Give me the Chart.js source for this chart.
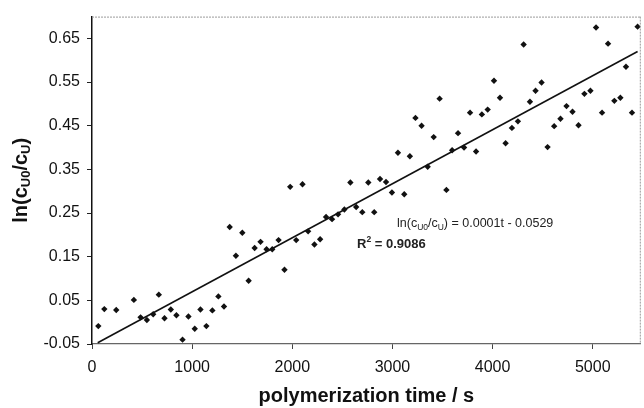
<!DOCTYPE html>
<html><head><meta charset="utf-8">
<script src="https://cdn.jsdelivr.net/npm/chart.js@4/dist/chart.umd.min.js"></script>
<style>html,body{margin:0;padding:0;background:#fff;} #wrap{width:644px;height:408px;}</style>
</head><body><div id="wrap"><canvas id="c" width="644" height="408"></canvas></div>
<script>
// ---- data ----
const timeS = [63,123,242,418,485,548,611,667,724,787,843,904,963,1026,1083,1142,1202,1262,1318,1375,1437,1501,1564,1624,1683,1743,1800,1863,1922,1979,2039,2102,2158,2221,2278,2337,2397,2457,2520,2580,2638,2699,2759,2818,2876,2936,2995,3055,3118,3174,3230,3291,3352,3412,3471,3539,3596,3655,3715,3775,3835,3893,3951,4014,4074,4130,4193,4253,4310,4373,4429,4489,4549,4615,4678,4738,4798,4858,4917,4977,5033,5093,5153,5216,5276,5332,5392,5448];
const lnRatio = [-0.009,0.030,0.028,0.051,0.011,0.005,0.018,0.063,0.009,0.029,0.016,-0.040,0.013,-0.015,0.029,-0.009,0.027,0.059,0.036,0.218,0.152,0.205,0.095,0.170,0.184,0.167,0.167,0.188,0.120,0.310,0.188,0.316,0.208,0.178,0.190,0.241,0.236,0.247,0.258,0.320,0.264,0.252,0.320,0.252,0.328,0.321,0.297,0.388,0.293,0.380,0.468,0.450,0.356,0.424,0.512,0.303,0.394,0.433,0.400,0.480,0.391,0.476,0.487,0.553,0.514,0.410,0.445,0.460,0.636,0.505,0.530,0.549,0.401,0.449,0.466,0.495,0.482,0.451,0.523,0.530,0.675,0.480,0.638,0.507,0.514,0.585,0.480,0.677];
const trendTime = [57, 5448];
const trendLn = [-0.047, 0.620];
const xTicks = [0,1000,2000,3000,4000,5000];
const yTicks = [-0.05,0.05,0.15,0.25,0.35,0.45,0.55,0.65];
const xRange = [0, 5480];
const yRange = [-0.05, 0.70];
const xTitleText = 'polymerization time / s';
const eqSlope = '0.0001t - 0.0529';
const r2Value = '0.9086';

const FONT = '"Liberation Sans", Arial, sans-serif';

const scatterData = timeS.map((t,i)=>({x:t, y:lnRatio[i]}));
const trendData = trendTime.map((t,i)=>({x:t, y:trendLn[i]}));

function drawSegments(ctx, segs, x, y, align){
  let total = 0;
  segs.forEach(s=>{ctx.font=(s.bold?'bold ':'')+s.size+'px '+FONT; s.w=ctx.measureText(s.t).width; total+=s.w;});
  let cx = align==='center' ? x-total/2 : x;
  ctx.textBaseline='alphabetic'; ctx.textAlign='left';
  segs.forEach(s=>{ctx.font=(s.bold?'bold ':'')+s.size+'px '+FONT; ctx.fillText(s.t, cx, y+(s.dy||0)); cx+=s.w;});
}

const decor = {
  id:'decor',
  afterDraw(chart){
    const ctx = chart.ctx, a = chart.chartArea;
    ctx.save();
    ctx.strokeStyle='#9a9a9a'; ctx.lineWidth=1; ctx.setLineDash([2,1]);
    ctx.beginPath(); ctx.moveTo(a.left, a.top+0.5); ctx.lineTo(a.right, a.top+0.5);
    ctx.moveTo(a.right-0.5, a.top); ctx.lineTo(a.right-0.5, a.bottom); ctx.stroke();
    ctx.setLineDash([]);
    ctx.fillStyle='#111';
    // x title
    ctx.font='bold 20px '+FONT; ctx.textAlign='center'; ctx.textBaseline='alphabetic';
    ctx.fillText(xTitleText, (a.left+a.right)/2, 402);
    // y title
    ctx.save();
    ctx.translate(20, (a.top+a.bottom)/2);
    ctx.rotate(-Math.PI/2);
    drawSegments(ctx, [
      {t:'ln(c', size:20, bold:true},
      {t:'U0', size:13, bold:true, dy:3},
      {t:'/c', size:20, bold:true},
      {t:'U', size:13, bold:true, dy:3},
      {t:')', size:20, bold:true}
    ], 0, 6.5, 'center');
    ctx.restore();
    // equation
    ctx.fillStyle='#222';
    drawSegments(ctx, [
      {t:'ln(c', size:12.5},
      {t:'U0', size:8.5, dy:3},
      {t:'/c', size:12.5},
      {t:'U', size:8.5, dy:3},
      {t:') = '+eqSlope, size:12.5}
    ], 397, 227, 'left');
    drawSegments(ctx, [
      {t:'R', size:13, bold:true},
      {t:'2', size:8.5, bold:true, dy:-6},
      {t:' = '+r2Value, size:13, bold:true}
    ], 357, 248, 'left');
    ctx.restore();
  }
};

new Chart(document.getElementById('c'), {
  type:'scatter',
  data:{datasets:[
    {type:'line', data:trendData, borderColor:'#111', borderWidth:1.6, pointRadius:0, fill:false, order:2},
    {data:scatterData, pointStyle:'rectRot', pointRadius:3.2, pointHoverRadius:3.2, backgroundColor:'#111', borderColor:'#111', borderWidth:0, order:1}
  ]},
  options:{
    responsive:false, devicePixelRatio:1, animation:false,
    layout:{padding:{top:13, right:1, left:0, bottom:0}},
    plugins:{legend:{display:false}, tooltip:{enabled:false}},
    scales:{
      x:{type:'linear', min:xRange[0], max:xRange[1],
        afterBuildTicks(s){ s.ticks = xTicks.map(v=>({value:v})); },
        afterFit(s){ s.height = 64; },
        ticks:{font:{family:FONT, size:16}, color:'#111', padding:9, callback:(v)=>String(v), maxRotation:0, autoSkip:false},
        grid:{drawOnChartArea:false, drawTicks:true, tickLength:5, color:'#444'},
        border:{display:true, color:'#666', width:1.2}
      },
      y:{type:'linear', min:yRange[0], max:yRange[1],
        afterBuildTicks(s){ s.ticks = yTicks.map(v=>({value:v})); },
        afterFit(s){ s.width = 92; },
        ticks:{font:{family:FONT, size:16}, color:'#111', padding:7, callback:(v)=>Number(v).toFixed(2), autoSkip:false},
        grid:{drawOnChartArea:false, drawTicks:true, tickLength:5, color:'#222'},
        border:{display:true, color:'#111', width:1.5}
      }
    }
  },
  plugins:[decor]
});
</script></body></html>
